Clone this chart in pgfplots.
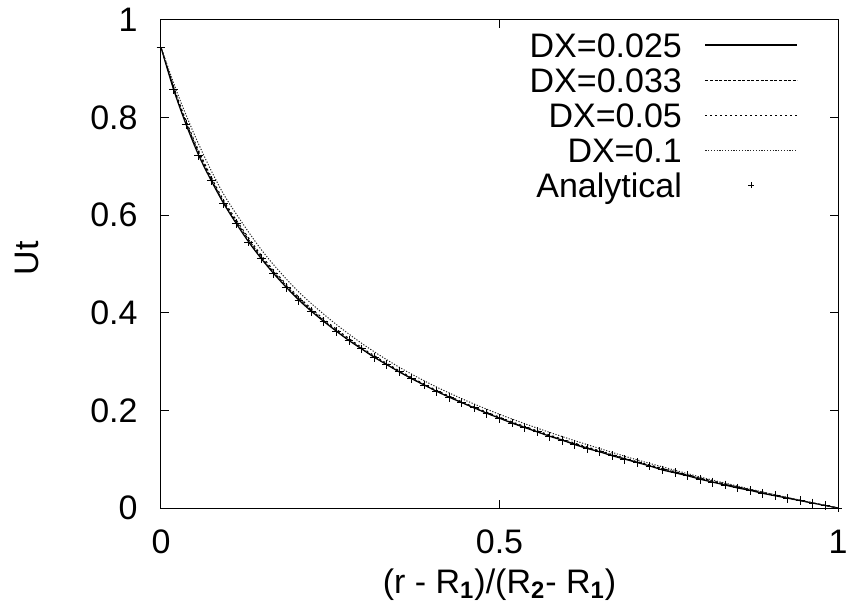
\documentclass[border=0pt]{standalone}
\usepackage{fontspec}
\setmainfont{Liberation Sans}
\usepackage{pgfplots}
\pgfplotsset{compat=1.18}
\usepackage{pgfplotstable}

\pgfplotsset{
  markleg/.style={legend image code/.code={\path[draw=none, fill=none] (0pt,0pt) -- (46pt,0pt); \draw[solid, black, line width=0.5pt] (21.5pt,0pt) -- (24.5pt,0pt) (23pt,-1.5pt) -- (23pt,1.5pt);}},
  lineleg/.style={legend image code/.code={\draw[##1] (0pt,0pt) -- (46pt,0pt);}},
}

\pgfplotstableread{
x y
0.0000 0.944
0.0185 0.858
0.0370 0.786
0.0556 0.723
0.0741 0.671
0.0926 0.624
0.1111 0.583
0.1296 0.545
0.1481 0.511
0.1667 0.480
0.1852 0.452
0.2037 0.426
0.2222 0.403
0.2407 0.382
0.2593 0.362
0.2778 0.343
0.2963 0.326
0.3148 0.309
0.3333 0.294
0.3519 0.279
0.3704 0.265
0.3889 0.252
0.4074 0.239
0.4259 0.227
0.4444 0.216
0.4630 0.205
0.4815 0.194
0.5000 0.184
0.5185 0.174
0.5370 0.165
0.5556 0.156
0.5741 0.147
0.5926 0.139
0.6111 0.130
0.6296 0.122
0.6481 0.115
0.6667 0.107
0.6852 0.100
0.7037 0.093
0.7222 0.086
0.7407 0.078
0.7593 0.072
0.7778 0.066
0.7963 0.059
0.8148 0.053
0.8333 0.047
0.8519 0.041
0.8704 0.036
0.8889 0.030
0.9074 0.025
0.9259 0.020
0.9444 0.015
0.9630 0.010
0.9815 0.005
1.0000 0.000
}\anatable

\pgfplotstableread{
x d033 d05 d1
0.000 0.944 0.944 0.944
0.025 0.8351 0.8379 0.847
0.050 0.746 0.750 0.763
0.075 0.672 0.676 0.689
0.100 0.6099 0.6137 0.626
0.150 0.5107 0.5143 0.526
0.200 0.4339 0.4371 0.4475
0.250 0.3733 0.3763 0.386
0.300 0.3230 0.3256 0.334
0.350 0.2807 0.2829 0.290
0.400 0.2442 0.2462 0.2527
0.450 0.2124 0.2143 0.2205
0.500 0.1844 0.1862 0.192
0.550 0.1593 0.161 0.1665
0.600 0.1362 0.1378 0.143
0.650 0.1151 0.1165 0.121
0.700 0.0952 0.0963 0.0999
0.750 0.0770 0.0779 0.0808
0.800 0.0598 0.0604 0.0623
0.850 0.0437 0.0441 0.0454
0.900 0.0284 0.0286 0.0292
0.950 0.0139 0.0140 0.0143
1.000 0.000 0.000 0.000
}\numtable

\begin{document}
\fontsize{17pt}{20pt}\selectfont
\begin{tikzpicture}
\useasboundingbox (-80.5pt,-51.5pt) rectangle (342.5pt,254pt);
\begin{axis}[
  at={(0pt,0pt)}, anchor=south west,
  scale only axis, width=338.5pt, height=244pt,
  xmin=0, xmax=1, ymin=0, ymax=1,
  xtick={0,0.5,1}, ytick={0,0.2,0.4,0.6,0.8,1},
  tick align=inside, major tick length=4pt,
  every tick/.style={line width=0.5pt, black},
  axis line style={line width=0.5pt},
  /pgf/number format/assume math mode=true,
  xticklabel style={anchor=base, yshift=-22.5pt, inner sep=0pt},
  yticklabel style={anchor=east, xshift=-11.5pt, inner sep=0pt},
  xlabel={(r - R\textsubscript{\textbf{1}})/(R\textsubscript{\textbf{2}}- R\textsubscript{\textbf{1}})},
  ylabel={Ut},
  every axis x label/.style={at={(axis description cs:0.5,-0.1742)}, anchor=base},
  every axis y label/.style={at={(axis description cs:-0.198,0.512)}, rotate=90, anchor=center},
  legend cell align=right,
  legend plot pos=right,
  legend style={at={(rel axis cs:0.941,1)}, anchor=north east, yshift=-3.75pt,
    draw=none, fill=none, inner sep=0pt, outer sep=0pt,
    column sep=11.5pt, row sep=0pt,
    nodes={inner sep=0pt, text height=14.85pt, text depth=2.65pt}},
]
\addplot[black, line width=0.6pt, smooth, lineleg] table[x=x, y=y] {\anatable};
\addlegendentry{DX=0.025}
\addplot[black, line width=0.5pt, smooth, dash pattern=on 1.5pt off 0.8pt, lineleg] table[x=x, y=d033] {\numtable};
\addlegendentry{DX=0.033}
\addplot[black, line width=0.5pt, smooth, dash pattern=on 1pt off 1.5pt, lineleg] table[x=x, y=d05] {\numtable};
\addlegendentry{DX=0.05}
\addplot[black!85, line width=0.5pt, smooth, dash pattern=on 0.6pt off 0.8pt, lineleg] table[x=x, y=d1] {\numtable};
\addlegendentry{DX=0.1}
\addplot[only marks, mark=+, mark size=2.2pt, black, mark options={line width=0.5pt}, markleg]
  table[x=x, y=y] {\anatable};
\addlegendentry{Analytical}
\end{axis}
\end{tikzpicture}
\end{document}
